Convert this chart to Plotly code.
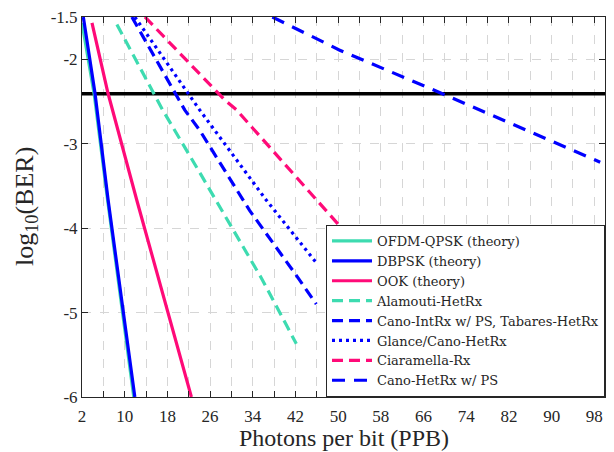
import plotly.graph_objects as go

# ---- data ----
fec_ppb = [2, 100]
fec_log_ber = [-2.41, -2.41]

ofdm_ppb = [2.0, 4.3, 6.8, 9.6, 11.7]
ofdm_ber = [-1.57, -2.42, -3.67, -5.0, -6.0]

dbpsk_ppb = [2.25, 4.43, 6.9, 9.7, 11.9]
dbpsk_ber = [-1.5, -2.40, -3.67, -5.0, -6.0]

ook_ppb = [3.87, 6.86, 12.27, 22.5]
ook_ber = [-1.57, -2.40, -3.67, -6.0]

alamouti_ppb = [8.54, 17.1, 24.04, 35.6, 42.16]
alamouti_ber = [-1.59, -2.60, -3.34, -4.59, -5.37]

canoint_ppb = [11.34, 21.24, 24.04, 33.4, 42.16, 45.9]
canoint_ber = [-1.5, -2.60, -2.84, -3.79, -4.56, -4.90]

glance_ppb = [11.9, 24.04, 36.55, 45.9]
glance_ber = [-1.5, -2.60, -3.67, -4.41]

ciaramella_ppb = [13.8, 28.7, 30.95, 47.9, 51.5]
ciaramella_ber = [-1.5, -2.48, -2.60, -3.81, -4.06]

canohet_ppb = [37.67, 50.2, 69.2, 99.1]
canohet_ber = [-1.5, -1.89, -2.40, -3.22]

x_tickvals = list(range(2, 99, 4))
x_ticktext = [str(v) if (v - 2) % 8 == 0 else "" for v in x_tickvals]
y_tickvals = [-6, -5, -4, -3, -2, -1.5]
y_ticktext = ["-6", "-5", "-4", "-3", "-2", "-1.5"]

TURQ = "#3ddbb0"
BLUE = "#0000ff"
PINK = "#ff0a78"
FONT = "Liberation Serif"
TXT = "#262626"

fig = go.Figure()

fig.add_trace(go.Scatter(x=fec_ppb, y=fec_log_ber, mode="lines",
                         line=dict(color="black", width=3.5), showlegend=False,
                         hoverinfo="skip"))

series = [
    ("OFDM-QPSK (theory)", ofdm_ppb, ofdm_ber, TURQ, "solid"),
    ("DBPSK (theory)", dbpsk_ppb, dbpsk_ber, BLUE, "solid"),
    ("OOK (theory)", ook_ppb, ook_ber, PINK, "solid"),
    ("Alamouti-HetRx", alamouti_ppb, alamouti_ber, TURQ, "11px,6px"),
    ("Cano-IntRx w/ PS, Tabares-HetRx", canoint_ppb, canoint_ber, BLUE, "11px,6px"),
    ("Glance/Cano-HetRx", glance_ppb, glance_ber, BLUE, "3px,4px"),
    ("Ciaramella-Rx", ciaramella_ppb, ciaramella_ber, PINK, "11px,6px"),
    ("Cano-HetRx w/ PS", canohet_ppb, canohet_ber, BLUE, "13px,9px"),
]
for name, xs, ys, col, dash in series:
    fig.add_trace(go.Scatter(x=xs, y=ys, mode="lines", name=name,
                             line=dict(color=col, width=3.2, dash=dash)))

axis_common = dict(
    showline=True, linecolor=TXT, linewidth=1, mirror="ticks",
    ticks="inside", ticklen=6, tickcolor=TXT,
    showgrid=True, gridcolor="#d6d6d6", griddash="dash", gridwidth=1,
    zeroline=False, tickfont=dict(family=FONT, size=17, color=TXT),
    automargin=False, ticklabeloverflow="allow",
)

fig.update_xaxes(range=[2, 100], tickmode="array", tickvals=x_tickvals,
                 ticktext=x_ticktext, ticklabelstandoff=4, **axis_common)
fig.update_yaxes(range=[-6, -1.5], tickmode="array", tickvals=y_tickvals,
                 ticktext=y_ticktext, **axis_common)

fig.add_annotation(text="Photons per bit (PPB)", xref="paper", yref="paper",
                   x=0.5, y=0, yshift=-41, xanchor="center", yanchor="middle",
                   showarrow=False, font=dict(family=FONT, size=24, color=TXT))
fig.add_annotation(text="log<sub>10</sub>(BER)", xref="paper", yref="paper",
                   x=0, y=0.5, xshift=-56, xanchor="center", yanchor="middle",
                   textangle=-90, showarrow=False,
                   font=dict(family=FONT, size=26, color=TXT))

fig.update_layout(
    width=606, height=444,
    margin=dict(l=74, r=9, t=9, b=55, autoexpand=False),
    plot_bgcolor="white", paper_bgcolor="white",
    font=dict(family=FONT, color=TXT),
    legend=dict(x=1, y=0, xanchor="right", yanchor="bottom",
                bgcolor="white", bordercolor=TXT, borderwidth=1,
                font=dict(family="DejaVu Serif", size=13, color=TXT),
                itemwidth=40, tracegroupgap=0),
)

fig.write_html("out.html")
